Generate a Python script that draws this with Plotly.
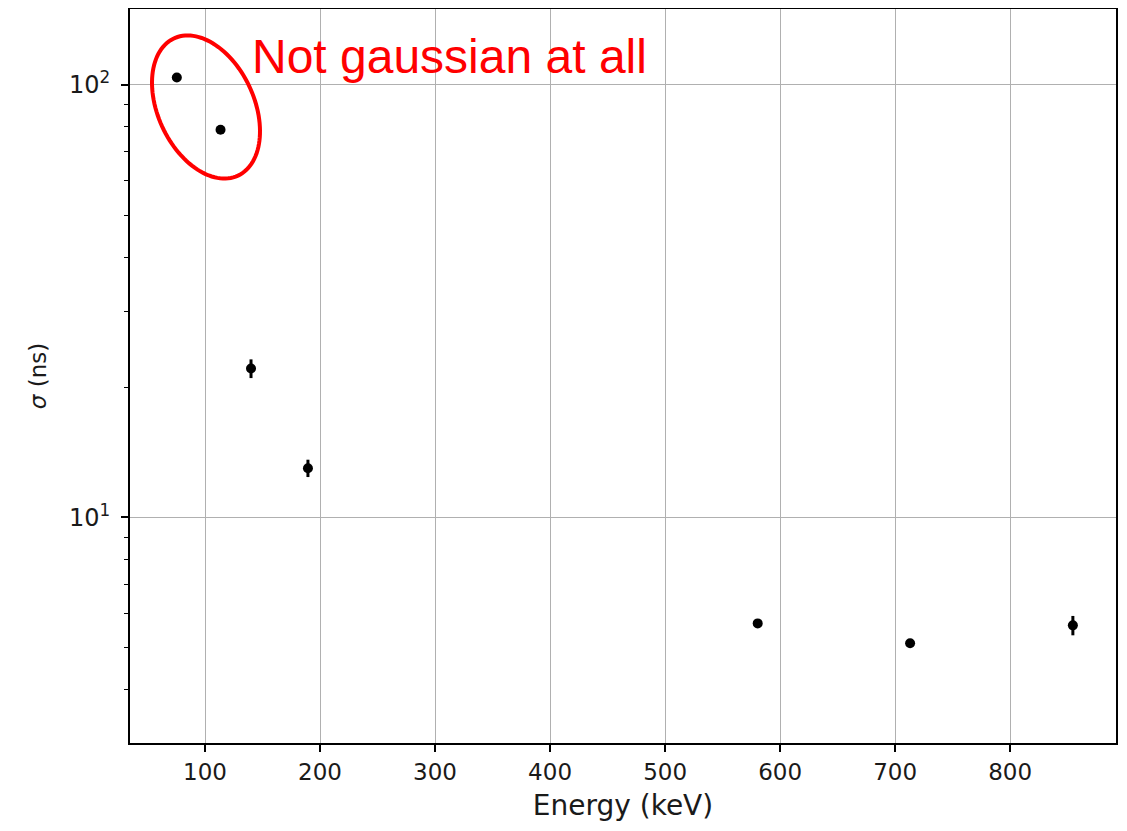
import numpy as np
import plotly.graph_objects as go

energy = [75.5, 113.5, 140.0, 189.5, 580.5, 713.0, 854.5]
sigma = [104.0, 78.8, 22.1, 13.0, 5.69, 5.12, 5.63]
sigma_err = [1.0, 0.8, 1.1, 0.6, 0.06, 0.05, 0.29]

W, H = 1127, 831
OFF = 8  # default body margin of the html page
# target plot box in page pixels: x 130..1116, y 9..743
L, T = 130 - OFF, 9 - OFF
R = W - (1116 - OFF)
B = H - (743 - OFF)
pw, ph = W - L - R, H - T - B

def to_paper(px, py):
    return (px - OFF - L) / pw, (H - B - (py - OFF)) / ph

fig = go.Figure()
fig.add_trace(go.Scatter(
    x=energy, y=sigma, mode="markers",
    marker=dict(color="black", size=10),
    error_y=dict(type="data", array=sigma_err, visible=True, color="black", thickness=3, width=0),
    showlegend=False))

# red ellipse (annotation) in paper coordinates
cx, cy, a, b, phi = 206, 107, 75.7, 48.0, np.deg2rad(25)
t = np.linspace(0, 2 * np.pi, 120)
ux, uy = np.sin(phi), np.cos(phi)
vx, vy = np.cos(phi), -np.sin(phi)
px = cx + a * np.cos(t) * ux + b * np.sin(t) * vx
py = cy + a * np.cos(t) * uy + b * np.sin(t) * vy
xp, yp = to_paper(px, py)
path = "M " + " L ".join(f"{x:.5f},{y:.5f}" for x, y in zip(xp, yp)) + " Z"
fig.add_shape(type="path", path=path, xref="paper", yref="paper",
              line=dict(color="#ff0000", width=4))

ax, ay = to_paper(250, 56)
fig.add_annotation(text="Not gaussian at all", xref="paper", yref="paper",
                   x=ax, y=ay, xanchor="left", yanchor="middle",
                   showarrow=False, font=dict(family="Liberation Sans, Arial", size=48, color="#ff0000"))

minor_vals = [v * d for d in (1, 10, 100) for v in range(2, 10)]
fig.update_layout(
    width=W, height=H,
    margin=dict(l=L, r=R, t=T, b=B, autoexpand=False),
    paper_bgcolor="white", plot_bgcolor="white",
    font=dict(family="DejaVu Sans", size=23, color="#1a1a1a"),
    xaxis=dict(range=[34.8, 892], tickvals=[100, 200, 300, 400, 500, 600, 700, 800],
               showgrid=True, gridcolor="#b0b0b0", gridwidth=1.2,
               ticks="outside", ticklen=7, tickwidth=1.5, tickcolor="black",
               showline=True, linecolor="black", linewidth=1.8, mirror=True,
               zeroline=False, automargin=False, tickfont=dict(size=23),
               title=dict(text="Energy (keV)", standoff=12)),
    yaxis=dict(type="log", range=[np.log10(3.01), np.log10(149.8)],
               tickvals=[10, 100], ticktext=["10<sup>1</sup>", "10<sup>2</sup>"],
               showgrid=True, gridcolor="#b0b0b0", gridwidth=1.2,
               ticks="outside", ticklen=7, tickwidth=1.5, tickcolor="black",
               ticklabelstandoff=6,
               minor=dict(tickmode="array", tickvals=minor_vals, ticks="outside", ticklen=4,
                          tickwidth=1.2, tickcolor="black", showgrid=False),
               showline=True, linecolor="black", linewidth=1.8, mirror=True,
               zeroline=False, automargin=False, tickfont=dict(size=24),
               title=dict(text="<i>σ</i> (ns)", standoff=16, font=dict(size=23))),
)
fig.write_html("out.html")
